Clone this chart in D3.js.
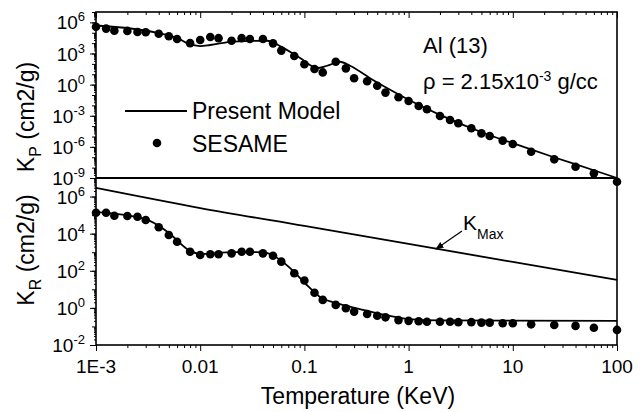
<!DOCTYPE html>
<html>
<head>
<meta charset="utf-8">
<script src="https://cdn.jsdelivr.net/npm/d3@7"></script>
<style>
  body { margin: 0; background: #fff; }
  text { font-family: Arial, "Liberation Sans", sans-serif; fill: #000; }
</style>
</head>
<body>
<script>
// SESAME table temperatures (KeV), shared by both panels
const temps = [1e-3, 1.25e-3, 1.5e-3, 2e-3, 2.5e-3, 3e-3, 4e-3, 5e-3, 6e-3, 8e-3,
  0.01, 0.0125, 0.015, 0.02, 0.025, 0.03, 0.04, 0.05, 0.06, 0.08,
  0.1, 0.125, 0.15, 0.2, 0.25, 0.3, 0.4, 0.5, 0.6, 0.8,
  1, 1.25, 1.5, 2, 2.5, 3, 4, 5, 6, 8,
  10, 15, 25, 40, 60, 100];
// Planck mean (cm2/g)
const kpSesame = [3.8e5, 2.5e5, 1.6e5, 1.5e5, 1.2e5, 1.1e5, 8.1e4, 4.6e4, 2.5e4, 1.0e4,
  2.0e4, 3.9e4, 3.0e4, 1.7e4, 3.0e4, 2.5e4, 2.5e4, 9.5e3, 1.9e3, 580,
  91, 32, 15, 160, 37, 4.1, 2.1, 0.79, 0.17, 0.060,
  0.026, 8.7e-3, 4.2e-3, 9.5e-4, 3.9e-4, 1.9e-4, 6.2e-5, 2.0e-5, 1.1e-5, 4.0e-6,
  1.9e-6, 3.4e-7, 6.3e-8, 1.2e-8, 2.8e-9, 4.4e-10];
// Rosseland mean (cm2/g)
const krSesame = [1.35e5, 1.35e5, 9.3e4, 8.9e4, 8.1e4, 5.5e4, 2.2e4, 8.5e3, 3.7e3, 1070,
  710, 780, 780, 870, 1070, 1070, 870, 650, 310, 74,
  30, 6.6, 2.7, 1.45, 0.95, 0.63, 0.47, 0.38, 0.31, 0.22,
  0.20, 0.19, 0.18, 0.18, 0.18, 0.17, 0.17, 0.16, 0.16, 0.15,
  0.15, 0.13, 0.12, 0.107, 0.085, 0.065];

// present model curves
const modelPT = [1e-3, 4e-3, 6e-3, 7.8e-3, 0.01, 0.0125, 0.0207, 0.0438, 0.0583, 0.0908,
  0.132, 0.165, 0.22, 0.274, 0.455, 0.62, 1.01, 2.0, 5.9, 10, 24.8, 58.9, 100];
const modelPK = [5.0e5, 9.3e4, 3.2e4, 8.3e3, 5.2e3, 6.6e3, 1.4e4, 1.7e4, 5.2e3, 370,
  40, 66, 160, 66, 2.8, 0.47, 0.033, 1.2e-3, 1.4e-5, 2.3e-6, 1.0e-7, 5.9e-9, 1e-9];
const modelRT = [1e-3, 2.95e-3, 5e-3, 7.8e-3, 0.01, 0.0207, 0.039, 0.049, 0.073, 0.101,
  0.141, 0.197, 0.34, 0.59, 1.0, 2.0, 100];
const modelRK = [1.45e5, 6.2e4, 1.1e4, 1.3e3, 810, 1000, 1000, 710, 140, 22,
  3.9, 1.9, 0.87, 0.42, 0.25, 0.21, 0.20];
const kmaxT = [1e-3, 0.01, 0.1, 1, 10, 100];
const kmaxK = [2.9e6, 2.4e5, 2.6e4, 2.8e3, 300, 32];

const xTicks = [1e-3, 0.01, 0.1, 1, 10, 100];
const xTickLabels = ["1E-3", "0.01", "0.1", "1", "10", "100"];
const kpTickExp = [6, 3, 0, -3, -6, -9];
const krTickExp = [6, 4, 2, 0, -2];

const svg = d3.select("body").append("svg")
  .attr("width", 643)
  .attr("height", 412);

const x = d3.scaleLog().domain([1e-3, 100]).range([96, 617]);
const yP = d3.scaleLog().domain([1e-9, 1e7]).range([178, 12]);
const yR = d3.scaleLog().domain([1e-2, 1e7]).range([345, 178]);

// minor tick values for log axes
function minors(lo, hi) {
  let out = [];
  for (let e = lo; e < hi; e++)
    for (let m = 2; m <= 9; m++) out.push(m * Math.pow(10, e));
  return out;
}
function decades(lo, hi) { return d3.range(lo, hi + 1).map(e => Math.pow(10, e)); }

function tickAxis(axis, y0, x0) {
  let g = svg.append("g").attr("transform", `translate(${x0 || 0},${y0 || 0})`).call(axis);
  g.select(".domain").remove();
  g.selectAll("line").attr("stroke", "#000").attr("stroke-width", 1);
  g.selectAll("text").remove();
  return g;
}

// x axis bottom (outward) and top (inward)
tickAxis(d3.axisBottom(x).tickValues(xTicks).tickSize(6), 345);
tickAxis(d3.axisBottom(x).tickValues(minors(-3, 2)).tickSize(3), 345);
tickAxis(d3.axisBottom(x).tickValues(xTicks).tickSize(6), 12);
tickAxis(d3.axisBottom(x).tickValues(minors(-3, 2)).tickSize(3), 12);

// y axes
tickAxis(d3.axisLeft(yP).tickValues(kpTickExp.map(e => Math.pow(10, e))).tickSize(6), 0, 96);
tickAxis(d3.axisLeft(yP).tickValues(decades(-9, 7)).tickSize(4), 0, 96);
tickAxis(d3.axisLeft(yP).tickValues(minors(-9, 7)).tickSize(2), 0, 96);
tickAxis(d3.axisLeft(yR).tickValues(krTickExp.map(e => Math.pow(10, e))).tickSize(6), 0, 96);
tickAxis(d3.axisLeft(yR).tickValues(decades(-2, 7)).tickSize(4), 0, 96);
tickAxis(d3.axisLeft(yR).tickValues(minors(-2, 7)).tickSize(2), 0, 96);

// frames
svg.append("rect").attr("x", 96).attr("y", 12).attr("width", 521).attr("height", 333)
  .attr("fill", "none").attr("stroke", "#000").attr("stroke-width", 1.6);
svg.append("line").attr("x1", 96).attr("x2", 617).attr("y1", 178).attr("y2", 178)
  .attr("stroke", "#000").attr("stroke-width", 2);

// tick labels
svg.selectAll(".xl").data(xTicks).join("text")
  .attr("x", d => x(d)).attr("y", 373)
  .attr("text-anchor", "middle").attr("font-size", 19)
  .text((d, i) => xTickLabels[i]);

function powLabels(scale, exps) {
  exps.forEach(e => {
    let t = svg.append("text")
      .attr("x", 85).attr("y", scale(Math.pow(10, e)) + 7)
      .attr("text-anchor", "end").attr("font-size", 19);
    t.append("tspan").text("10");
    t.append("tspan").attr("dy", -8).attr("font-size", 13).text(e);
  });
}
powLabels(yP, kpTickExp);
powLabels(yR, krTickExp);

// axis titles
svg.append("text").attr("x", 358).attr("y", 404)
  .attr("text-anchor", "middle").attr("font-size", 23)
  .text("Temperature (KeV)");

function yTitle(sub, cy) {
  let t = svg.append("text")
    .attr("transform", `translate(34,${cy}) rotate(-90)`)
    .attr("text-anchor", "middle").attr("font-size", 23);
  t.append("tspan").text("K");
  t.append("tspan").attr("dy", 7).attr("font-size", 16).text(sub);
  t.append("tspan").attr("dy", -7).text(" (cm2/g)");
}
yTitle("P", 117);
yTitle("R", 250);

// curves
const lineP = d3.line().x(d => x(d[0])).y(d => yP(d[1])).curve(d3.curveMonotoneX);
const lineR = d3.line().x(d => x(d[0])).y(d => yR(d[1])).curve(d3.curveMonotoneX);

svg.append("path").attr("d", lineP(d3.zip(modelPT, modelPK)))
  .attr("fill", "none").attr("stroke", "#000").attr("stroke-width", 1.8);
svg.append("path").attr("d", lineR(d3.zip(modelRT, modelRK)))
  .attr("fill", "none").attr("stroke", "#000").attr("stroke-width", 1.8);
svg.append("path").attr("d", lineR(d3.zip(kmaxT, kmaxK)))
  .attr("fill", "none").attr("stroke", "#000").attr("stroke-width", 1.8);

svg.append("g").selectAll("circle").data(d3.zip(temps, kpSesame)).join("circle")
  .attr("cx", d => x(d[0])).attr("cy", d => yP(d[1])).attr("r", 4.3).attr("fill", "#000");
svg.append("g").selectAll("circle").data(d3.zip(temps, krSesame)).join("circle")
  .attr("cx", d => x(d[0])).attr("cy", d => yR(d[1])).attr("r", 4.3).attr("fill", "#000");

// legend
svg.append("line").attr("x1", 125).attr("x2", 187).attr("y1", 111).attr("y2", 111)
  .attr("stroke", "#000").attr("stroke-width", 1.8);
svg.append("text").attr("x", 192).attr("y", 119).attr("font-size", 23).text("Present Model");
svg.append("circle").attr("cx", 157).attr("cy", 143).attr("r", 4.3).attr("fill", "#000");
svg.append("text").attr("x", 192).attr("y", 152).attr("font-size", 23).text("SESAME");

// material annotation
svg.append("text").attr("x", 423).attr("y", 53).attr("font-size", 22).text("Al (13)");
let rho = svg.append("text").attr("x", 423).attr("y", 89).attr("font-size", 22);
rho.append("tspan").text("\u03c1 = 2.15x10");
rho.append("tspan").attr("dy", -8).attr("font-size", 14).text("-3");
rho.append("tspan").attr("dy", 8).text(" g/cc");

// K_Max label with arrow
svg.append("defs").append("marker").attr("id", "ah")
  .attr("viewBox", "0 0 10 10").attr("refX", 9).attr("refY", 5)
  .attr("markerWidth", 7).attr("markerHeight", 7).attr("orient", "auto")
  .append("path").attr("d", "M0,1L10,5L0,9Z").attr("fill", "#000");
svg.append("line").attr("x1", 462).attr("y1", 231).attr("x2", 436).attr("y2", 249)
  .attr("stroke", "#000").attr("stroke-width", 1.2).attr("marker-end", "url(#ah)");
let km = svg.append("text").attr("x", 463).attr("y", 230).attr("font-size", 21);
km.append("tspan").text("K");
km.append("tspan").attr("dy", 9).attr("font-size", 14).text("Max");
</script>
</body>
</html>
